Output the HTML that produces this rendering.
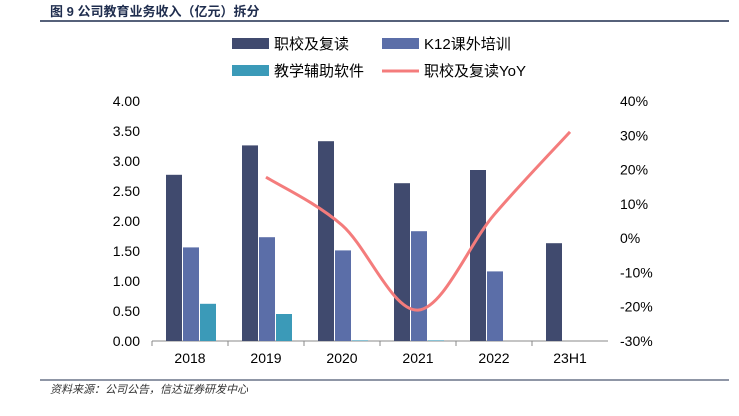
<!DOCTYPE html>
<html><head><meta charset="utf-8"><style>
body{margin:0;background:#fff;width:739px;height:411px;overflow:hidden;font-family:"Liberation Sans","Noto Sans CJK SC",sans-serif}
</style></head><body>
<svg width="739" height="411" xmlns="http://www.w3.org/2000/svg">
<text x="50" y="16" font-size="13" font-weight="bold" fill="#1f2d4e" font-family="Liberation Sans,Noto Sans CJK SC,sans-serif">图 9  公司教育业务收入（亿元）拆分</text>
<line x1="40" y1="21" x2="729" y2="21" stroke="#1f2d4e" stroke-width="1.5"/>
<g id="legend" font-size="15" fill="#000">
<rect x="232" y="38" width="37" height="11" fill="#404a6e"/>
<text x="274" y="49">职校及复读</text>
<rect x="382" y="38" width="37" height="11" fill="#5b6ea8"/>
<text x="424" y="49">K12课外培训</text>
<rect x="232" y="65" width="37" height="11" fill="#3b9ab8"/>
<text x="274" y="76">教学辅助软件</text>
<line x1="382" y1="71" x2="419" y2="71" stroke="#f47c7c" stroke-width="3"/>
<text x="424" y="76">职校及复读YoY</text>
</g>
<g id="axes" font-size="14"></g>
<g id="bars"></g>
<path id="yoy" fill="none" stroke="#f47c7c" stroke-width="3"/>
<line x1="40" y1="380" x2="729" y2="380" stroke="#1f2d4e" stroke-width="1"/>
<text x="50" y="393" font-size="11" font-style="italic" fill="#333">资料来源：公司公告，信达证券研发中心</text>
</svg>
<script>
const categories=["2018","2019","2020","2021","2022","23H1"];
const vocational=[2.77,3.26,3.33,2.63,2.85,1.63];
const k12=[1.56,1.73,1.51,1.83,1.16,0];
const aids=[0.62,0.45,0.01,0.01,0,0];
const yoy=[null,17.8,3.8,-21,6.8,31];
const leftTicks=["0.00","0.50","1.00","1.50","2.00","2.50","3.00","3.50","4.00"];
const rightTicks=["-30%","-20%","-10%","0%","10%","20%","30%","40%"];
const NS="http://www.w3.org/2000/svg";
const X0=152,X1=608,Y0=341,Y1=101;
const bw=(X1-X0)/categories.length;
const cx=i=>X0+bw*(i+0.5);
const yL=v=>Y0-(v/4)*(Y0-Y1);
const yR=v=>Y0-((v+30)/70)*(Y0-Y1);
function mk(tag,attrs,parent){const e=document.createElementNS(NS,tag);for(const k in attrs)e.setAttribute(k,attrs[k]);parent.appendChild(e);return e;}
const ax=document.getElementById('axes'),bg=document.getElementById('bars');
let l=mk('line',{x1:X0,y1:Y0,x2:X1,y2:Y0,stroke:'#888'},ax);


leftTicks.forEach(t=>{const v=parseFloat(t);const e=mk('text',{x:X0-12,y:yL(v)+5,'text-anchor':'end'},ax);e.textContent=t;

});
rightTicks.forEach(t=>{const v=parseFloat(t);const e=mk('text',{x:X1+12,y:yR(v)+5},ax);e.textContent=t;

});
categories.forEach((c,i)=>{const e=mk('text',{x:cx(i),y:Y0+22,'text-anchor':'middle'},ax);e.textContent=c;


const tk=mk('line',{x1:X0+bw*i,y1:Y0,x2:X0+bw*i,y2:Y0+5,stroke:'#888'},ax);

});
const series=[[vocational,'#404a6e','bar-vocational'],[k12,'#5b6ea8','bar-k12'],[aids,'#3b9ab8','bar-aids']];
categories.forEach((c,i)=>{series.forEach((s,j)=>{const v=s[0][i];const x=cx(i)-24+j*17;
const r=mk('rect',{x:x,y:yL(v),width:16,height:Y0-yL(v),fill:s[1]},bg);

});});
const pts=[];yoy.forEach((v,i)=>{if(v!==null)pts.push([cx(i),yR(v)]);});
let d='M'+pts[0][0]+','+pts[0][1];
for(let i=0;i<pts.length-1;i++){const p0=pts[i-1]||pts[i],p1=pts[i],p2=pts[i+1],p3=pts[i+2]||p2;
d+=' C'+(p1[0]+(p2[0]-p0[0])/6)+','+(p1[1]+(p2[1]-p0[1])/6)+' '+(p2[0]-(p3[0]-p1[0])/6)+','+(p2[1]-(p3[1]-p1[1])/6)+' '+p2[0]+','+p2[1];}
document.getElementById('yoy').setAttribute('d',d);
</script>
</body></html>
